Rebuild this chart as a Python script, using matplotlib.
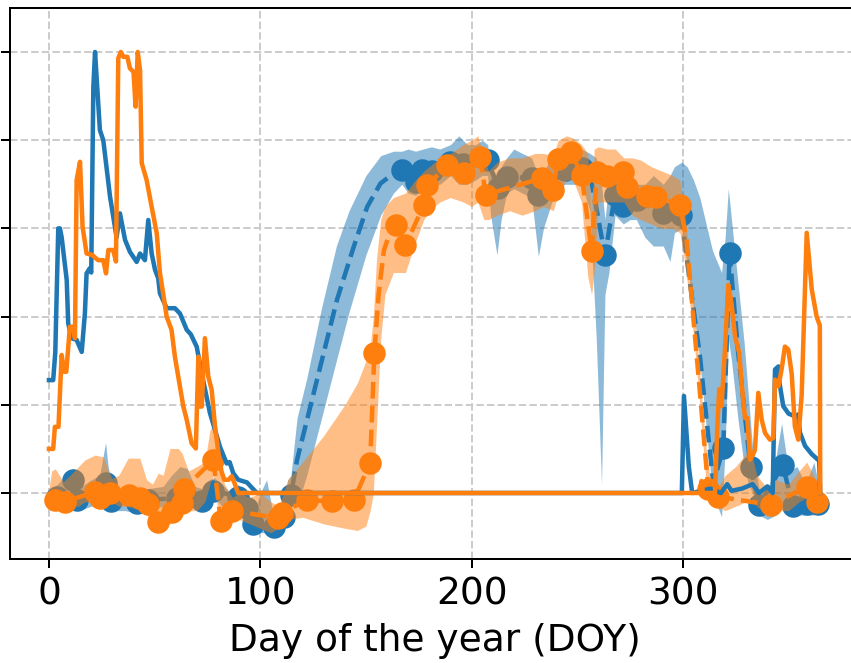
import matplotlib
matplotlib.use("Agg")
import matplotlib.pyplot as plt

BLUE = "#1f77b4"
ORANGE = "#ff7f0e"

# ---------------- solid series (snow) ----------------
blue_snow_doy = [0, 2, 3, 4.4, 5.2, 6, 8.4, 9.1, 10.7, 13.1, 15.5, 17, 17.8, 19.4, 20, 21, 21.8,
                 24.1, 25.7, 28.9, 32, 33.6, 36, 38.3, 41.5, 43.1, 45.4, 47, 48.6, 50.2, 51.7,
                 52.5, 55.7, 59.6, 62, 65.2, 67.1, 69.9, 72.3, 76.2, 78.6, 80.9, 84.1, 85.5,
                 87.2, 89.6, 93.7, 96.8, 98.4, 299.5, 300.5, 302.8, 304.4, 313, 318, 321, 323,
                 328, 333, 336, 340, 342.5, 343.6, 345.2, 345.7, 347.5, 350, 353, 354.5, 355.4,
                 357.8, 361, 364.5, 365]
blue_snow_val = [0.256, 0.256, 0.32, 0.60, 0.60, 0.58, 0.483, 0.385, 0.351, 0.347, 0.32, 0.407,
                 0.498, 0.51, 0.50, 0.92, 1.0, 0.823, 0.80, 0.672, 0.58, 0.634, 0.574, 0.547,
                 0.524, 0.543, 0.528, 0.619, 0.543, 0.506, 0.487, 0.453, 0.419, 0.419, 0.407,
                 0.37, 0.36, 0.332, 0.271, 0.181, 0.143, 0.105, 0.067, 0.07, 0.045, 0.03, 0.024,
                 0.008, 0.0, 0.0, 0.22, 0.06, 0.0, 0.01, 0.0, 0.02, 0.005, 0.01, 0.02, 0.0,
                 0.015, 0.0, 0.28, 0.287, 0.25, 0.197, 0.18, 0.174, 0.178, 0.137, 0.107, 0.088,
                 0.073, 0.0]

orange_snow_doy = [0, 2, 2.8, 4.5, 6, 7.2, 8.2, 9.9, 11.5, 12.3, 13.1, 14.7, 15.9, 17.8, 20.4,
                   22, 23.3, 25.7, 27, 28.1, 30.4, 31.7, 32.8, 34, 35.2, 37.1, 38.3, 40, 41, 42,
                   43.1, 43.9, 46.2, 48.6, 51, 52.5, 55.7, 58, 59.6, 62, 63.6, 65.2, 67.5, 69.5,
                   70.7, 71.5, 72.3, 73.8, 75.4, 77, 78.6, 80.5, 81.7, 83, 85, 86.5, 88, 89.5,
                   308, 308.8, 309.5, 315.2, 316.3, 317.2, 318.3, 320, 321.5, 323, 324.7, 326.7,
                   327.6, 329.4, 330.5, 331.8, 333, 334.1, 335.7, 337.3, 338.9, 341.2, 342.8,
                   343.6, 345.2, 346.7, 348.3, 349.9, 351.5, 353, 354.6, 356.2, 358.6, 361,
                   363.3, 364.8, 365]
orange_snow_val = [0.10, 0.10, 0.15, 0.15, 0.313, 0.275, 0.275, 0.377, 0.377, 0.351, 0.71,
                   0.751, 0.604, 0.543, 0.54, 0.533, 0.528, 0.528, 0.498, 0.551, 0.551, 0.525,
                   0.986, 1.0, 0.989, 0.989, 0.963, 0.955, 0.876, 1.0, 0.959, 0.748, 0.71,
                   0.649, 0.589, 0.50, 0.40, 0.37, 0.309, 0.241, 0.196, 0.166, 0.113, 0.101,
                   0.309, 0.196, 0.196, 0.351, 0.264, 0.234, 0.15, 0.08, 0.048, 0.03, 0.03,
                   0.038, 0.02, 0.0, 0.0, 0.027, 0.0, 0.0, 0.15, 0.235, 0.197, 0.332, 0.472,
                   0.43, 0.355, 0.317, 0.257, 0.17, 0.17, 0.076, 0.085, 0.098, 0.227, 0.166,
                   0.136, 0.121, 0.125, 0.257, 0.242, 0.28, 0.332, 0.325, 0.27, 0.151, 0.121,
                   0.22, 0.59, 0.461, 0.40, 0.38, 0.0]

# ---------------- observations (dots) ----------------
blue_obs_doy = [4, 11.5, 13.5, 26.8, 29.3, 41.5, 47, 60.4, 65.5, 72.5, 77.8, 89.6, 93.6, 96.7,
                106.6, 111, 114.5, 167.1, 173.5, 176.6, 181.4, 190, 196, 207.6, 212.6, 216.6,
                228.4, 231.6, 244.2, 247.4, 252.1, 263.1, 267.9, 271.8, 278.1, 290.7, 299.2,
                319.1, 322.1, 332, 336.2, 347.3, 352, 358.6, 364]
blue_obs_val = [-0.008, 0.03, -0.016, 0.022, -0.018, -0.023, -0.015, -0.012, -0.012, -0.018,
                0.005, -0.008, -0.035, -0.07, -0.078, -0.055, -0.005, 0.732, 0.706, 0.732,
                0.73, 0.751, 0.745, 0.755, 0.691, 0.717, 0.714, 0.676, 0.732, 0.736, 0.736,
                0.54, 0.676, 0.651, 0.664, 0.634, 0.63, 0.102, 0.544, 0.058, -0.027, 0.063,
                -0.03, -0.025, -0.025]

orange_obs_doy = [3, 7.6, 21.8, 24, 28.9, 37.9, 43, 46.8, 51.7, 58.4, 62.8, 63.8, 77.8, 81.3,
                  86.8, 108.5, 110.3, 122, 134, 144.2, 152, 154, 164, 168.7, 177.4, 179, 188.5,
                  196.3, 204.2, 206.6, 233.5, 238.7, 240.7, 247, 252.1, 256.8, 259.2, 264,
                  271.8, 273.4, 282.9, 287.2, 298.6, 312, 316.4, 341.6, 358.6, 363.7]
orange_obs_val = [-0.015, -0.02, 0.003, -0.011, 0.0, -0.005, -0.011, -0.025, -0.065, -0.044,
                  -0.023, 0.009, 0.075, -0.063, -0.04, -0.057, -0.045, -0.016, -0.019, -0.016,
                  0.068, 0.317, 0.608, 0.562, 0.653, 0.698, 0.743, 0.725, 0.763, 0.676, 0.714,
                  0.687, 0.757, 0.774, 0.721, 0.549, 0.727, 0.719, 0.729, 0.695, 0.674, 0.672,
                  0.653, 0.009, -0.008, -0.027, 0.014, -0.02]

# ---------------- fitted curves (dashed) ----------------
blue_fit_doy = [0, 4, 11.5, 13.5, 26.8, 29.3, 41.5, 47, 60.4, 65.5, 72.5, 77.8, 89.6, 93.6,
                96.7, 106.6, 111, 114.5, 117.4, 129.2, 136.3, 144.2, 150.6, 156.9, 164, 167.1,
                173.5, 176.6, 181.4, 190, 196, 207.6, 212.6, 216.6, 228.4, 231.6, 244.2, 247.4,
                252.1, 256, 263.1, 267.9, 271.8, 278.1, 290.7, 299.2, 303.4, 308.1, 311.2,
                314.4, 319.1, 322.1, 326.2, 332, 336.2, 347.3, 352, 358.6, 364, 365]
blue_fit_val = [0.0, -0.008, 0.03, -0.016, 0.022, -0.018, -0.023, -0.015, -0.012, -0.012,
                -0.018, 0.005, -0.008, -0.035, -0.07, -0.078, -0.055, -0.005, 0.075, 0.302,
                0.438, 0.558, 0.649, 0.702, 0.728, 0.732, 0.706, 0.732, 0.73, 0.751, 0.745,
                0.755, 0.691, 0.717, 0.714, 0.676, 0.732, 0.736, 0.736, 0.725, 0.54, 0.676,
                0.651, 0.664, 0.634, 0.63, 0.475, 0.309, 0.166, 0.022, 0.102, 0.544, 0.317,
                0.058, -0.027, 0.063, -0.03, -0.025, -0.025, -0.025]

orange_fit_doy = [0, 3, 7.6, 21.8, 24, 28.9, 37.9, 43, 46.8, 51.7, 58.4, 62.8, 63.8, 77.8, 81.3,
                  86.8, 108.5, 110.3, 122, 134, 144.2, 152, 154, 156, 158.5, 162, 164, 168.7,
                  177.4, 179, 188.5, 196.3, 204.2, 206.6, 233.5, 238.7, 240.7, 247, 252.1,
                  256.8, 259.2, 264, 271.8, 273.4, 282.9, 287.2, 298.6, 301.8, 304.9, 308.1,
                  312, 316.4, 341.6, 358.6, 363.7, 365]
orange_fit_val = [-0.005, -0.015, -0.02, 0.003, -0.011, 0.0, -0.005, -0.011, -0.025, -0.065,
                  -0.044, -0.023, 0.009, 0.075, -0.063, -0.04, -0.057, -0.045, -0.016, -0.019,
                  -0.016, 0.068, 0.317, 0.45, 0.55, 0.6, 0.608, 0.562, 0.653, 0.698, 0.743,
                  0.725, 0.763, 0.676, 0.714, 0.687, 0.757, 0.774, 0.721, 0.549, 0.727, 0.719,
                  0.729, 0.695, 0.674, 0.672, 0.653, 0.574, 0.40, 0.226, 0.009, -0.008, -0.027,
                  0.014, -0.02, -0.02]

# ---------------- uncertainty bands ----------------
blue_band_doy = [0, 4, 8, 11.5, 14, 20, 24, 26.8, 28, 30, 36, 41.5, 47, 54, 58, 62, 65.5, 69,
                 72.5, 76, 78, 82, 86, 89.6, 93.6, 96.7, 100, 103, 106.6, 111, 113, 114.5,
                 117.4, 122, 129, 136, 142, 150, 157, 163, 167, 170, 173.5, 177, 181, 185, 190,
                 194, 198, 202, 205, 207.6, 209, 212, 214, 216.6, 220, 224, 228.4, 231.6, 234,
                 238, 244, 247.4, 252, 256, 259, 261.5, 263.1, 265, 267.9, 271.8, 275, 278,
                 282, 286, 290.7, 293.9, 296, 299.4, 302, 305, 308, 311, 314, 318.3, 320,
                 321.5, 323, 326, 329, 331, 333, 336, 340, 344, 346.7, 350, 354, 358, 362, 365]
blue_band_lo = [-0.005, -0.03, -0.02, 0.0, -0.04, -0.03, -0.02, -0.01, -0.01, -0.04, -0.04,
                -0.045, -0.04, -0.03, -0.03, -0.03, -0.02, -0.035, -0.04, -0.02, -0.01, -0.03,
                -0.04, -0.03, -0.06, -0.09, -0.09, -0.09, -0.1, -0.08, -0.03, -0.03, -0.03,
                0.04, 0.17, 0.30, 0.41, 0.54, 0.63, 0.68, 0.70, 0.68, 0.675, 0.69, 0.70, 0.70,
                0.72, 0.70, 0.70, 0.71, 0.72, 0.72, 0.63, 0.54, 0.62, 0.68, 0.69, 0.68, 0.67,
                0.536, 0.60, 0.66, 0.70, 0.70, 0.70, 0.64, 0.35, 0.02, 0.45, 0.50, 0.63, 0.61,
                0.62, 0.62, 0.58, 0.56, 0.56, 0.525, 0.59, 0.60, 0.52, 0.42, 0.30, 0.15, 0.0,
                -0.054, 0.10, 0.35, 0.30, 0.17, 0.06, 0.02, 0.0, -0.05, -0.06, -0.05, -0.02,
                -0.05, -0.05, -0.05, -0.05, -0.04]
blue_band_hi = [0.005, 0.02, 0.04, 0.055, 0.01, 0.03, 0.04, 0.115, 0.06, 0.01, 0.01, 0.0,
                0.01, 0.015, 0.04, 0.06, 0.055, 0.015, 0.01, 0.03, 0.035, 0.02, 0.0, 0.02,
                -0.01, -0.05, 0.0, 0.03, -0.06, -0.02, 0.03, 0.04, 0.17, 0.26, 0.42, 0.56,
                0.64, 0.72, 0.765, 0.775, 0.775, 0.78, 0.775, 0.78, 0.785, 0.78, 0.79, 0.81,
                0.79, 0.79, 0.80, 0.79, 0.74, 0.72, 0.74, 0.76, 0.78, 0.77, 0.76, 0.72, 0.73,
                0.76, 0.78, 0.78, 0.78, 0.77, 0.76, 0.70, 0.62, 0.70, 0.72, 0.70, 0.72, 0.70,
                0.70, 0.72, 0.70, 0.72, 0.74, 0.75, 0.74, 0.71, 0.67, 0.61, 0.55, 0.50, 0.58,
                0.69, 0.62, 0.48, 0.34, 0.22, 0.10, 0.01, 0.0, 0.08, 0.158, 0.05, 0.06, 0.02,
                0.07, 0.0]

orange_band_doy = [0, 1.3, 3, 6.8, 10, 14, 17, 21.8, 25.7, 29.7, 33, 37.5, 43, 46.2, 49, 51.7,
                   54, 57.3, 61.2, 63, 66, 70, 73.8, 76.2, 77.8, 80.9, 83, 86.8, 90, 95, 100,
                   105, 108.5, 110.3, 113, 120, 130, 140, 146, 150, 152, 153.5, 155, 157, 159,
                   163, 168.7, 173.5, 177.4, 180, 185, 190, 196, 200, 203, 205.8, 208, 212,
                   218, 224, 230, 234, 238.7, 241, 245, 248, 252, 255, 256.8, 258, 260, 264,
                   268, 272, 276, 280, 285, 290, 295, 298.6, 301, 305, 308, 311, 313, 316, 320,
                   325, 330, 332, 335, 340, 344, 350, 355, 358.6, 362, 365]
orange_band_lo = [-0.01, -0.03, -0.04, -0.04, -0.03, -0.03, -0.02, -0.02, -0.03, -0.02, -0.03,
                  -0.03, -0.04, -0.05, -0.07, -0.09, -0.08, -0.07, -0.05, -0.03, -0.04, -0.04,
                  -0.02, 0.02, 0.04, -0.08, -0.08, -0.06, -0.06, -0.07, -0.08, -0.09, -0.08,
                  -0.07, -0.06, -0.055, -0.07, -0.08, -0.085, -0.075, -0.04, 0.0, 0.15, 0.35,
                  0.45, 0.50, 0.50, 0.57, 0.62, 0.64, 0.66, 0.67, 0.66, 0.65, 0.66, 0.62,
                  0.62, 0.63, 0.64, 0.63, 0.64, 0.65, 0.64, 0.68, 0.71, 0.71, 0.66, 0.49,
                  0.45, 0.50, 0.66, 0.66, 0.66, 0.66, 0.63, 0.62, 0.61, 0.60, 0.60, 0.59,
                  0.52, 0.36, 0.20, 0.02, -0.02, -0.03, -0.04, -0.03, -0.02, -0.01, -0.03,
                  -0.05, -0.04, -0.04, -0.02, -0.01, -0.04, -0.04]
orange_band_hi = [0.01, 0.05, 0.055, 0.026, 0.04, 0.06, 0.075, 0.086, 0.082, 0.033, 0.04,
                  0.079, 0.079, 0.03, 0.02, 0.045, 0.04, 0.101, 0.101, 0.09, 0.05, 0.06, 0.071,
                  0.143, 0.154, 0.067, 0.02, -0.01, 0.0, -0.01, 0.0, -0.02, -0.03, -0.01, 0.03,
                  0.07, 0.13, 0.20, 0.25, 0.30, 0.33, 0.40, 0.53, 0.62, 0.65, 0.67, 0.68, 0.71,
                  0.73, 0.74, 0.76, 0.77, 0.79, 0.80, 0.81, 0.76, 0.73, 0.75, 0.76, 0.76,
                  0.77, 0.77, 0.765, 0.80, 0.81, 0.805, 0.79, 0.77, 0.62, 0.78, 0.785, 0.78,
                  0.78, 0.76, 0.76, 0.755, 0.74, 0.73, 0.72, 0.71, 0.63, 0.44, 0.27, 0.10,
                  0.03, 0.01, 0.04, 0.06, 0.09, 0.10, 0.04, 0.01, 0.03, 0.02, 0.05, 0.07, 0.04,
                  0.01]

x_ticks = [0, 100, 200, 300]
y_ticks = [0.0, 0.2, 0.4, 0.6, 0.8, 1.0]

# ---------------- figure ----------------
DPI = 180
fig = plt.figure(figsize=(851 / DPI, 663 / DPI), dpi=DPI)
ax = fig.add_axes([10.4 / 851, (663 - 559.15) / 663, 848.4 / 851, 551.25 / 663])
ax.set_axisbelow(True)
ax.grid(True, linestyle="--", color="#cccccc", linewidth=0.8)
ax.spines["right"].set_visible(False)

LW = 1.8
ax.fill_between(blue_band_doy, blue_band_lo, blue_band_hi, color=BLUE, alpha=0.5,
                linewidth=0, zorder=1.0)
ax.plot(blue_fit_doy, blue_fit_val, "--", color=BLUE, lw=LW, zorder=2.0)
ax.plot(blue_obs_doy, blue_obs_val, "o", color=BLUE, ms=8, zorder=2.1)

ax.fill_between(orange_band_doy, orange_band_lo, orange_band_hi, color=ORANGE, alpha=0.5,
                linewidth=0, zorder=2.2)
ax.plot(orange_fit_doy, orange_fit_val, "--", color=ORANGE, lw=LW, zorder=2.3)
ax.plot(orange_obs_doy, orange_obs_val, "o", color=ORANGE, ms=8, zorder=2.4)

ax.plot(blue_snow_doy, blue_snow_val, "-", color=BLUE, lw=LW, zorder=3.0)
ax.plot(orange_snow_doy, orange_snow_val, "-", color=ORANGE, lw=LW, zorder=3.1)

ax.set_xlim(-18.25, 383.25)
ax.set_ylim(-0.15, 1.1)
ax.set_xticks(x_ticks)
ax.set_xticklabels([str(t) for t in x_ticks], fontsize=15)
ax.set_yticks(y_ticks)
ax.set_yticklabels([])
ax.set_xlabel("Day of the year (DOY)", fontsize=15)

fig.savefig("out.png", dpi=DPI)
